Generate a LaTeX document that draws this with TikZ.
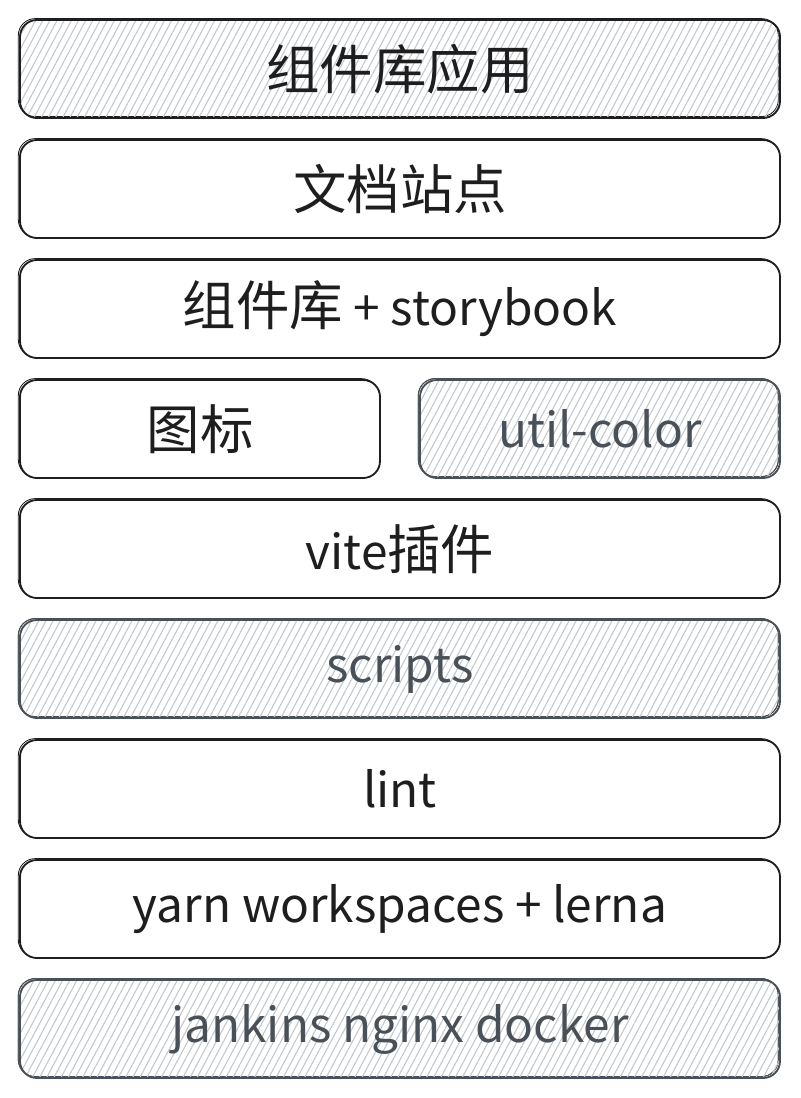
\documentclass[tikz,border=0pt]{standalone}
\usepackage{fontspec}
\setmainfont{Noto Sans CJK SC}
\usetikzlibrary{patterns.meta}
\definecolor{ink}{HTML}{1E1E1E}
\definecolor{slate}{HTML}{495057}
\definecolor{hatch}{HTML}{C3C9D0}
\newcommand{\hz}[1]{{\fontsize{38}{40}\selectfont #1}}

\begin{document}
\begin{tikzpicture}[
    layer/.style={draw=ink,line width=1.3pt,rounded corners=12pt,fill=white,
      minimum height=2.45cm,minimum width=19cm,text=ink,
      font=\fontsize{34}{38}\selectfont,
      preaction={draw=ink,line width=0.6pt,rounded corners=14pt,
        transform canvas={xshift=-1.2pt,yshift=1pt}}},
    half/.style={layer,minimum width=9cm},
    hatched/.style={pattern={Lines[angle=62,distance=4.5pt,line width=0.8pt]},
      pattern color=hatch},
    muted/.style={draw=slate,text=slate,
      preaction={draw=slate,line width=0.6pt,rounded corners=14pt,
        transform canvas={xshift=-1.2pt,yshift=1pt}}}
  ]
  \useasboundingbox (0,0) rectangle (20,-27.45);

  \begin{scope}
      \node[layer,hatched] (app)     at (10,-1.725)  {\hz{组件库应用}};
      \node[layer]         (docs)    at (10,-4.725)  {\hz{文档站点}};
      \node[layer]         (lib)     at (10,-7.725)  {\hz{组件库} + storybook};
      \node[half]          (icon)    at (5 ,-10.725) {\hz{图标}};
      \node[half,hatched,muted] (color) at (15,-10.725) {util-color};
      \node[layer]         (vite)    at (10,-13.725) {vite\hz{插件}};
      \node[layer,hatched,muted] (scripts) at (10,-16.725) {scripts};
      \node[layer]         (lint)    at (10,-19.725) {lint};
      \node[layer]         (yarn)    at (10,-22.725) {yarn workspaces + lerna};
      \node[layer,hatched,muted] (deploy) at (10,-25.725) {jankins nginx docker};
  \end{scope}
\end{tikzpicture}
\end{document}
